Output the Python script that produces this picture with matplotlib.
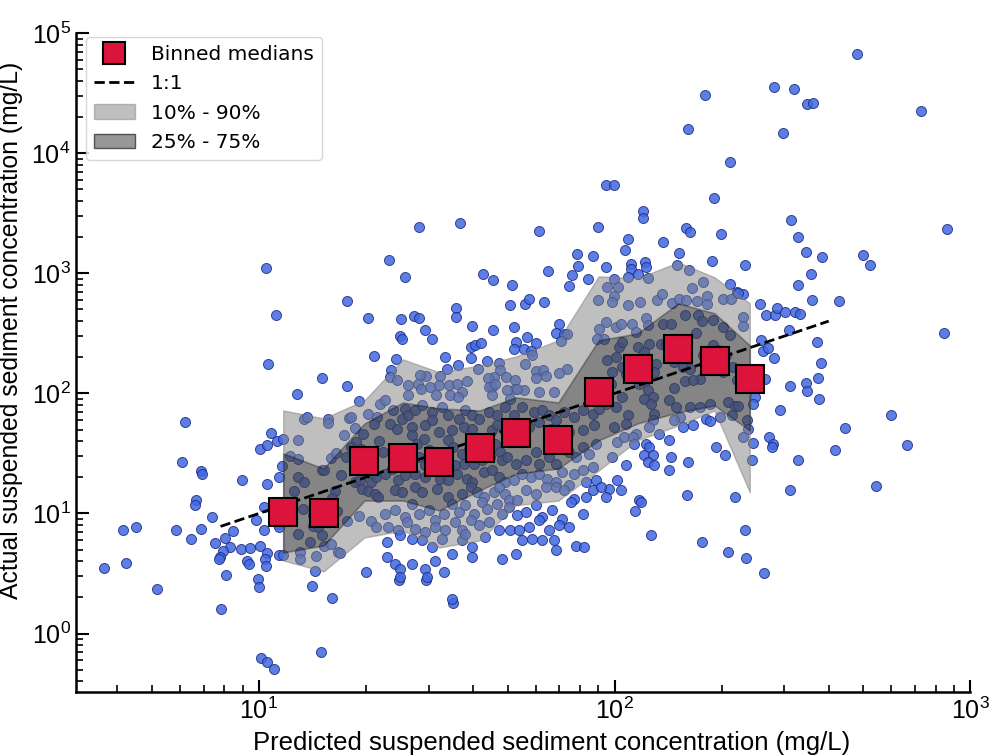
import matplotlib
matplotlib.use('Agg')
import matplotlib.pyplot as plt
from matplotlib.patches import Patch
from matplotlib.lines import Line2D
import numpy as np

plt.rcParams['mathtext.default'] = 'regular'

# log10 of predicted / actual SSC (mg/L) for each sample
log_pred = [
    2.682, 2.253, 2.449, 2.505, 2.540, 2.557, 2.862, 2.206, 2.474, 2.324,
    1.975, 1.997, 2.279, 2.080, 2.080, 2.495, 2.936, 2.200, 2.213, 2.300,
    2.515, 2.038, 2.028, 2.137, 2.537, 2.584, 2.699, 2.717, 2.181, 2.275,
    2.366, 2.045, 2.046, 2.086, 2.087, 2.067, 2.037, 1.975, 2.095, 2.175,
    2.210, 2.553, 2.515, 2.324, 2.555, 2.631, 2.218, 2.248, 2.343, 2.361,
    2.410, 2.427, 2.451, 2.458, 2.480, 2.508, 2.522, 2.360, 2.360, 2.490,
    2.926, 2.569, 2.411, 2.416, 2.432, 2.449, 2.580, 2.572, 2.538, 2.542,
    2.423, 2.493, 2.574, 2.394, 2.464, 2.777, 2.647, 2.435, 2.446, 2.444,
    2.822, 2.619, 2.515, 2.387, 2.389, 2.389, 2.736, 2.492, 2.338, 2.205,
    1.999, 2.011, 1.980, 1.997, 1.994, 2.037, 2.072, 2.119, 2.134, 2.162,
    2.181, 2.201, 2.232, 2.260, 2.260, 2.305, 2.328, 2.346,
    1.977, 2.004, 2.018, 2.048, 2.088, 2.093, 2.135, 2.159, 2.197, 2.234,
    2.246, 2.277, 2.305, 2.324, 1.971, 2.013, 2.022, 2.060, 2.065, 2.098,
    2.084, 2.131, 2.145, 2.117, 2.168, 2.192, 2.211, 2.228, 2.248, 2.265,
    2.277, 2.291, 2.314, 2.333, 2.305, 2.343, 2.239, 2.197, 2.220, 2.168,
    2.112, 2.088, 2.032, 1.994, 2.004, 1.980, 2.051, 2.022, 1.990, 2.070,
    2.093, 2.107, 2.084, 2.103, 2.154, 2.173, 2.211, 2.239, 2.267, 2.296,
    2.319, 2.338, 2.347, 2.329, 2.183, 2.168, 2.112, 2.107, 2.098, 2.037,
    2.004, 2.022, 1.975, 1.999, 2.032, 2.060, 2.126, 2.192, 2.220, 2.258,
    2.267, 2.371, 2.376, 2.361, 2.008, 2.027, 2.051, 2.055, 2.088, 2.098,
    2.084, 2.107, 2.093, 2.112, 2.154, 2.159, 2.206, 2.154, 1.994, 2.032,
    2.008, 1.985, 2.018, 2.070, 2.286, 2.310,
    2.073, 2.058, 2.102, 2.247, 2.368, 2.318, 2.370, 2.419, 1.975,
    1.148, 1.206, 1.545, 1.394, 1.471, 1.005, 1.024, 1.041, 1.175,
    1.021, 1.048, 1.025,
    1.247, 1.177, 1.247, 1.106, 1.323, 1.367, 1.411, 1.449, 1.565, 1.787,
    1.953, 1.306, 1.400, 1.436, 1.449, 1.397, 1.402, 1.467, 1.487, 1.385,
    1.524, 1.555, 1.554, 1.599, 1.596, 1.608, 1.624, 1.597, 1.559, 1.529,
    1.641, 1.658, 1.631, 1.659, 1.711, 1.707, 1.716, 1.723, 1.753, 1.717,
    1.749, 1.759, 1.801, 1.780, 1.812, 1.881, 1.873, 1.895, 1.898, 1.924,
    1.939, 1.953, 1.844, 1.834, 1.858, 1.865, 1.850, 1.867, 1.845, 1.957,
    1.950, 1.745, 1.764, 1.768, 1.747, 1.778, 1.798, 1.806, 1.778, 1.829,
    1.787, 1.745, 1.674, 1.677, 1.661, 1.644, 1.655, 1.695, 1.721, 1.721,
    1.585, 1.615, 1.508, 1.505, 1.534, 1.558, 1.572, 1.469, 1.453, 1.448,
    1.420, 1.370, 1.369, 1.387, 1.418, 1.457, 1.481, 1.498, 1.536, 1.561,
    1.646, 1.665, 1.655, 1.698, 1.726, 1.707,
    0.791, 0.785, 0.838, 0.841, 0.824, 0.819, 0.618, 0.654, 0.768, 0.809,
    0.837, 0.869, 0.563, 0.625, 0.712, 0.892, 0.876, 0.904, 0.926, 0.919,
    0.900, 0.891, 0.888, 0.949, 0.908, 0.965, 0.973, 0.996, 0.999, 1.159,
    1.302, 0.951, 1.022, 1.004, 1.022, 1.034, 1.051, 1.067, 1.281, 1.307,
    1.333, 1.340, 1.126, 1.134, 1.194, 1.194, 1.253, 1.260, 1.110, 1.086,
    1.109, 1.066, 1.057, 1.015, 0.993, 1.013, 1.053, 1.057, 1.002, 0.976,
    1.022, 1.018, 1.021, 1.057, 1.069, 1.110, 1.128, 1.098, 1.123, 1.153,
    1.153, 1.166, 1.109, 1.143, 1.178, 1.182, 1.116, 1.116, 1.161, 1.177,
    1.184, 1.203, 1.218, 1.231, 1.215, 1.206, 1.220, 1.247, 1.222, 1.227,
    1.203, 1.281, 1.238, 1.271, 1.293, 1.274, 1.286, 1.260, 1.245, 1.269,
    1.283, 1.291, 1.307, 1.316, 1.330, 1.326, 1.335, 1.316, 1.330, 1.323,
    1.338,
    1.354, 1.378, 1.411, 1.401, 1.420, 1.439, 1.458, 1.486, 1.514, 1.533,
    1.562, 1.580, 1.599, 1.618, 1.646, 1.670, 1.693, 1.717, 1.740, 1.773,
    1.797, 1.816, 1.835, 1.858, 1.886, 1.910, 1.938, 1.957, 1.369, 1.387,
    1.430, 1.467, 1.486, 1.505, 1.543, 1.576, 1.599, 1.656, 1.670, 1.759,
    1.788, 1.821, 1.872, 1.910, 1.943,
    1.350, 1.430, 1.444, 1.463, 1.477, 1.533, 1.547, 1.571, 1.590, 1.665,
    1.679, 1.684, 1.698, 1.722, 1.750, 1.778, 1.788, 1.816, 1.835, 1.872,
    1.891, 1.910, 1.929, 1.948, 1.449, 1.467, 1.496, 1.533, 1.552, 1.576,
    1.604, 1.627, 1.651,
    1.354, 1.373, 1.392, 1.411, 1.439, 1.467, 1.486, 1.510, 1.533, 1.557,
    1.585, 1.599, 1.632, 1.656, 1.675, 1.693, 1.717, 1.740, 1.764, 1.788,
    1.811, 1.835, 1.853, 1.872, 1.886, 1.910, 1.938, 1.919, 1.948, 1.383,
    1.401, 1.439, 1.458, 1.500, 1.533, 1.571, 1.595, 1.613, 1.632, 1.660,
    1.675, 1.693, 1.703, 1.726, 1.750, 1.778, 1.806, 1.835, 1.858, 1.886,
    1.919, 1.938, 1.962,
    1.354, 1.383, 1.411, 1.430, 1.449, 1.477, 1.496, 1.519, 1.543, 1.562,
    1.580, 1.604, 1.627, 1.642, 1.670, 1.684, 1.703, 1.726, 1.750, 1.778,
    1.797, 1.825, 1.853, 1.877, 1.910, 1.364, 1.392, 1.416, 1.439, 1.467,
    1.496, 1.524, 1.552, 1.571, 1.595, 1.618, 1.646, 1.675, 1.707, 1.731,
    1.759, 1.788, 1.816, 1.844, 1.872,
    1.359, 1.397, 1.430, 1.458, 1.486, 1.514, 1.543, 1.571, 1.599, 1.580,
    1.637, 1.684, 1.722, 1.740, 1.769, 1.797, 1.830, 1.835, 1.891, 1.915,
    1.359, 1.383, 1.430, 1.397, 1.397, 1.467, 1.472, 1.496, 1.519, 1.599,
    1.543,
]
log_actual = [
    4.831, 4.483, 4.553, 4.539, 4.408, 4.422, 4.350, 4.206, 4.172, 3.928,
    3.739, 3.733, 3.628, 3.522, 3.458, 3.442, 3.372, 3.378, 3.344, 3.331,
    3.306, 3.283, 3.197, 3.258, 3.175, 3.133, 3.156, 3.067, 3.169, 3.106,
    3.072, 3.081, 3.039, 3.094, 3.053, 2.997, 2.969, 3.053, 2.964, 3.069,
    3.031, 2.997, 2.906, 2.914, 2.775, 2.772, 2.878, 2.928, 2.844, 2.825,
    2.747, 2.650, 2.650, 2.714, 2.675, 2.675, 2.661, 2.636, 2.561, 2.525,
    2.506, 2.428, 2.442, 2.350, 2.378, 2.292, 2.253, 2.131, 2.089, 2.022,
    2.119, 2.058, 1.953, 1.969, 1.858, 1.822, 1.711, 1.639, 1.581, 1.550,
    1.572, 1.531, 1.442, 1.442, 1.589, 1.914, 1.225, 1.197, 1.136, 1.150,
    2.956, 2.886, 2.886, 2.811, 2.761, 2.733, 2.761, 2.775, 2.825, 2.753,
    2.789, 2.775, 2.767, 2.811, 2.742, 2.789, 2.789, 2.836,
    2.594, 2.553, 2.581, 2.575, 2.628, 2.567, 2.575, 2.581, 2.650, 2.656,
    2.600, 2.608, 2.553, 2.483, 2.456, 2.386, 2.428, 2.511, 2.386, 2.408,
    2.344, 2.414, 2.414, 2.247, 2.261, 2.219, 2.206, 2.503, 2.317, 2.289,
    2.400, 2.358, 2.317, 2.219, 2.178, 2.108, 2.122, 2.103, 2.108, 2.047,
    2.178, 2.108, 2.164, 2.178, 2.303, 2.275, 2.289, 2.219, 2.081, 2.081,
    2.025, 1.969, 1.956, 1.914, 1.942, 1.886, 1.886, 1.886, 1.914, 1.803,
    1.928, 1.892, 1.892, 1.817, 1.803, 1.775, 1.831, 1.775, 1.719, 1.817,
    1.886, 1.969, 1.914, 1.719, 1.747, 1.664, 1.664, 1.719, 1.733, 1.789,
    1.769, 1.775, 1.706, 1.636, 1.594, 1.636, 1.636, 1.581, 1.581, 1.553,
    1.483, 1.483, 1.428, 1.400, 1.608, 1.469, 1.428, 1.364, 1.469, 1.400,
    1.275, 1.206, 1.197, 1.108, 1.553, 1.483,
    1.092, 1.017, 0.822, 0.761, 0.864, 0.683, 0.633, 0.500, 1.136,
    0.392, 0.295, 0.256, 0.442, 0.442, -0.202, -0.236, -0.294, -0.155,
    3.047, 2.653, 2.247,
    2.769, 2.128, 2.058, 1.997, 2.311, 3.111, 2.972, 3.383, 3.422, 3.353,
    3.386, 2.628, 2.622, 2.647, 2.628, 2.475, 2.453, 2.531, 2.453, 2.286,
    2.300, 2.711, 2.636, 2.558, 2.383, 2.406, 2.419, 2.294, 2.233, 2.200,
    2.272, 2.525, 2.994, 2.944, 2.903, 2.739, 2.550, 2.431, 2.469, 2.367,
    2.747, 2.783, 2.758, 2.422, 3.019, 2.986, 2.897, 3.161, 3.061, 2.950,
    3.147, 2.775, 2.575, 2.503, 2.492, 2.492, 2.436, 2.200, 2.169, 2.539,
    2.450, 2.367, 2.353, 2.317, 2.247, 2.183, 2.192, 2.142, 2.128, 2.011,
    2.011, 2.025, 2.256, 2.192, 2.136, 2.128, 2.053, 2.136, 2.108, 2.039,
    2.103, 2.200, 2.142, 2.067, 2.067, 2.081, 2.011, 2.144, 2.150, 2.081,
    2.067, 2.192, 2.136, 2.108, 1.983, 2.039, 2.053, 1.983, 1.983, 1.969,
    2.053, 2.081, 1.983, 2.025, 2.039, 1.956,
    1.758, 1.425, 1.353, 1.330, 1.111, 1.069, 0.864, 0.891, 0.866, 0.791,
    0.872, 0.969, 0.544, 0.589, 0.369, 0.202, 0.750, 0.797, 0.852, 0.719,
    0.686, 0.636, 0.622, 0.705, 0.491, 0.608, 0.575, 0.452, 0.386, 0.519,
    0.516, 1.277, 1.247, 1.539, 1.567, 1.669, 1.600, 1.622, 1.936, 1.825,
    1.803, 1.914, 1.789, 1.803, 1.789, 1.753, 1.797, 1.803, 1.614, 1.478,
    1.450, 1.392, 1.303, 1.053, 0.942, 0.866, 0.914, 0.886, 0.725, 0.714,
    0.672, 0.622, 0.561, 0.650, 0.655, 1.303, 1.261, 1.186, 1.039, 0.983,
    0.894, 0.886, 0.830, 0.764, 0.822, 0.727, 0.678, 0.622, 0.644, 1.358,
    1.358, 1.464, 1.503, 1.322, 1.183, 1.130, 1.019, 0.933, 0.678, 0.672,
    0.747, 0.975, 1.655, 1.711, 1.664, 1.594, 1.539, 1.553, 1.467, 1.261,
    1.275, 1.206, 1.191, 1.261, 1.303, 1.164, 1.136, 0.936, 0.886, 1.747,
    1.603,
    1.942, 1.858, 1.872, 1.789, 1.817, 1.858, 1.900, 1.844, 1.886, 1.817,
    1.789, 1.858, 1.817, 1.789, 1.844, 1.817, 1.886, 1.817, 1.886, 1.844,
    1.858, 1.817, 1.775, 1.844, 1.803, 1.858, 1.831, 1.872, 1.747, 1.706,
    1.719, 1.733, 1.775, 1.678, 1.692, 1.719, 1.706, 1.692, 1.733, 1.719,
    1.761, 1.706, 1.678, 1.692, 1.733,
    1.511, 1.650, 1.581, 1.622, 1.525, 1.608, 1.553, 1.497, 1.539, 1.581,
    1.511, 1.442, 1.469, 1.414, 1.442, 1.511, 1.414, 1.469, 1.414, 1.511,
    1.469, 1.553, 1.497, 1.581, 1.469, 1.400, 1.442, 1.469, 1.400, 1.414,
    1.414, 1.442, 1.469,
    1.331, 1.372, 1.275, 1.317, 1.331, 1.303, 1.358, 1.289, 1.275, 1.331,
    1.289, 1.261, 1.344, 1.358, 1.303, 1.261, 1.275, 1.331, 1.303, 1.331,
    1.289, 1.261, 1.344, 1.233, 1.331, 1.358, 1.386, 1.261, 1.275, 1.192,
    1.178, 1.219, 1.178, 1.206, 1.136, 1.164, 1.219, 1.178, 1.136, 1.178,
    1.219, 1.164, 1.108, 1.108, 1.192, 1.164, 1.219, 1.219, 1.192, 1.122,
    1.136, 1.192, 1.219,
    0.997, 1.025, 0.969, 1.081, 0.997, 1.025, 0.942, 0.997, 1.081, 1.011,
    1.067, 0.997, 1.094, 1.039, 1.081, 0.997, 1.053, 0.983, 1.011, 1.067,
    0.969, 1.025, 0.956, 1.094, 0.997, 0.886, 0.858, 0.928, 0.872, 0.844,
    0.886, 0.858, 0.928, 0.858, 0.942, 0.900, 0.928, 0.858, 0.858, 0.858,
    0.886, 0.942, 0.858, 0.900, 0.886,
    0.761, 0.817, 0.789, 0.775, 0.719, 0.789, 0.664, 0.775, 0.719, 0.831,
    0.803, 0.622, 0.664, 0.775, 0.789, 0.775, 0.775, 0.692, 0.733, 0.719,
    0.636, 0.581, 0.581, 0.539, 0.469, 0.539, 0.469, 0.608, 0.511, 0.636,
    0.289,
]

# binned statistics (mg/L)
bin_pred = [11.7, 15.2, 19.8, 25.4, 32.1, 41.8, 52.8, 69.5, 90.2, 116, 151, 191, 240]
bin_median = [10.2, 10.0, 27.1, 28.7, 26.6, 34.8, 46.4, 40.6, 102, 161, 233, 185, 131]
bin_p90 = [72.1, 61.9, 87.5, 192, 150, 171, 203, 277, 944, 908, 1236, 927, 562]
bin_p75 = [31.6, 23.7, 56.2, 84.1, 75.0, 72.1, 92.7, 84.1, 277, 316, 562, 465, 251]
bin_p25 = [4.73, 5.41, 12.8, 12.8, 10.6, 15.6, 21.5, 23.7, 40.6, 56.2, 69.5, 79.4, 49.2]
bin_p10 = [4.06, 3.29, 6.31, 7.21, 5.21, 5.96, 11.7, 12.8, 22.8, 40.6, 54.1, 72.1, 15.0]

one_to_one = [7.8, 400]

pred = 10 ** np.array(log_pred)
actual = 10 ** np.array(log_actual)

fig = plt.figure(figsize=(9.89, 7.55), dpi=100)
ax = fig.add_axes([0.077, 0.083, 0.904, 0.873])

ax.scatter(pred, actual, s=52, color='royalblue', edgecolors='#1c2a80',
           linewidths=0.7, alpha=0.85, zorder=1)
ax.fill_between(bin_pred, bin_p10, bin_p90, facecolor='gray', edgecolor='gray',
                alpha=0.5, zorder=2)
ax.fill_between(bin_pred, bin_p25, bin_p75, facecolor='k', edgecolor='k',
                alpha=0.3, lw=1.2, zorder=3)
ax.plot(one_to_one, one_to_one, 'k--', lw=2, zorder=4)
ax.plot(bin_pred, bin_median, 's', ms=20, mfc='crimson', mec='k', mew=1.5,
        zorder=5)

ax.set_xscale('log')
ax.set_yscale('log')
ax.set_xlim(10 ** 0.486, 1000)
ax.set_ylim(10 ** -0.49, 1e5)

for s in ['top', 'right']:
    ax.spines[s].set_visible(False)
for s in ['left', 'bottom']:
    ax.spines[s].set_linewidth(1.8)
ax.tick_params(which='both', direction='in', top=False, right=False)
ax.tick_params(which='major', length=9, width=1.5, labelsize=18, pad=4)
ax.tick_params(which='minor', length=5, width=1.2)
for lab in ax.get_xticklabels() + ax.get_yticklabels():
    lab.set_fontfamily('Liberation Sans')

ax.set_xlabel('Predicted suspended sediment concentration (mg/L)',
              fontsize=18.5, fontfamily='Liberation Sans')
ax.set_ylabel('Actual suspended sediment concentration (mg/L)',
              fontsize=17.8, fontfamily='Liberation Sans')
ax.xaxis.set_label_coords(0.532, -0.058)
ax.yaxis.set_label_coords(-0.06, 0.549)

handles = [
    Line2D([], [], marker='s', ls='none', ms=16, mfc='crimson', mec='k', mew=1.5),
    Line2D([], [], color='k', ls='--', lw=2),
    Patch(facecolor='gray', edgecolor='gray', alpha=0.5),
    Patch(facecolor='#8c8c8c', edgecolor='#444444', alpha=0.9),
]
labels = ['Binned medians', '1:1', '10% - 90%', '25% - 75%']
ax.legend(handles, labels, loc='upper left', fontsize=14.5,
          bbox_to_anchor=(0.0, 1.009))

fig.savefig('out.png', dpi=100)
